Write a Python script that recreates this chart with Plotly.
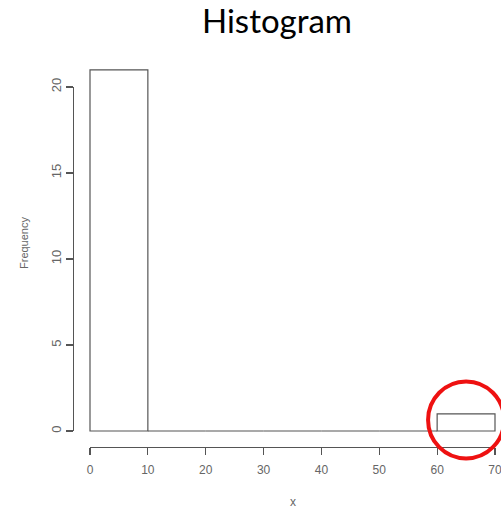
import plotly.graph_objects as go

# Data
bin_starts = [0, 10, 20, 30, 40, 50, 60]
bin_width = 10
counts = [21, 0, 0, 0, 0, 0, 1]
x_ticks = [0, 10, 20, 30, 40, 50, 60, 70]
y_ticks = [0, 5, 10, 15, 20]

W, H = 501, 513
def fx(px):
    return px / W
def fy(py):
    return 1 - py / H

# pixel geometry
x0_px, x70_px = 90, 495
y0_px, y20_px = 431, 87
sx = (x70_px - x0_px) / 70.0
sy = (y0_px - y20_px) / 20.0

# main (bar) axes span the whole page
xr = [(0 - x0_px) / sx, (W - x0_px) / sx]
yr = [(y0_px - H) / sy, (y0_px - 0) / sy]

edge = "#555555"
txt = "#666666"
font_axes = "Liberation Sans, Arial"

fig = go.Figure()
fig.add_trace(go.Bar(
    x=[b + bin_width / 2 for b in bin_starts], y=counts, width=bin_width,
    marker=dict(color="white", line=dict(color=edge, width=1.2)),
    xaxis="x", yaxis="y", showlegend=False, hoverinfo="skip",
))
fig.add_trace(go.Scatter(x=[0, 70], y=[0, 20], mode="markers",
                         marker=dict(opacity=0), xaxis="x2", yaxis="y2",
                         showlegend=False, hoverinfo="skip"))

fig.update_layout(
    width=W, height=H, margin=dict(l=0, r=0, t=0, b=0, autoexpand=False),
    paper_bgcolor="white", plot_bgcolor="rgba(0,0,0,0)",
    bargap=0,
    xaxis=dict(domain=[0, 1], range=xr, visible=False, fixedrange=True, automargin=False),
    yaxis=dict(domain=[0, 1], range=yr, visible=False, fixedrange=True, automargin=False),
    xaxis2=dict(domain=[fx(x0_px), fx(x70_px)], range=[0, 70], anchor="free",
                position=fy(447), showline=True, linecolor=edge, linewidth=1.2,
                ticks="outside", ticklen=7, tickcolor=edge, tickwidth=1.2,
                tickvals=x_ticks, showgrid=False, zeroline=False, automargin=False,
                ticklabeloverflow="allow", ticklabelstandoff=4,
                tickfont=dict(family=font_axes, size=12, color=txt)),
    yaxis2=dict(domain=[fy(y0_px), fy(y20_px)], range=[0, 20], anchor="free",
                position=fx(73), showline=True, linecolor=edge, linewidth=1.2,
                ticks="outside", ticklen=7, tickcolor=edge, tickwidth=1.2,
                tickvals=y_ticks, tickangle=-90, showgrid=False, zeroline=False,
                automargin=False, ticklabeloverflow="allow",
                tickfont=dict(family=font_axes, size=13, color=txt)),
    annotations=[
        dict(text="Frequency", xref="paper", yref="paper",
             x=fx(24), y=fy(243), xanchor="center", yanchor="middle",
             textangle=-90, showarrow=False,
             font=dict(family=font_axes, size=11, color=txt)),
        dict(text="x", xref="paper", yref="paper",
             x=fx((x0_px + x70_px) / 2), y=fy(502), xanchor="center", yanchor="middle",
             showarrow=False, font=dict(family=font_axes, size=12, color=txt)),
    ],
    title=dict(text="Histogram", x=277 / W, xanchor="center", y=fy(21), yanchor="middle",
               automargin=False,
               font=dict(family="Lato, Open Sans", size=33, color="black")),
    shapes=[dict(type="circle", xref="x", yref="y",
                 x0=65 - 38 / sx, x1=65 + 38 / sx,
                 y0=0.64 - 38.5 / sy, y1=0.64 + 38.5 / sy,
                 line=dict(color="#ee1111", width=4))],
)

fig.write_html("out.html", config=dict(displayModeBar=False, staticPlot=True),
               post_script="document.body.style.margin='0';document.body.style.overflow='hidden';")
